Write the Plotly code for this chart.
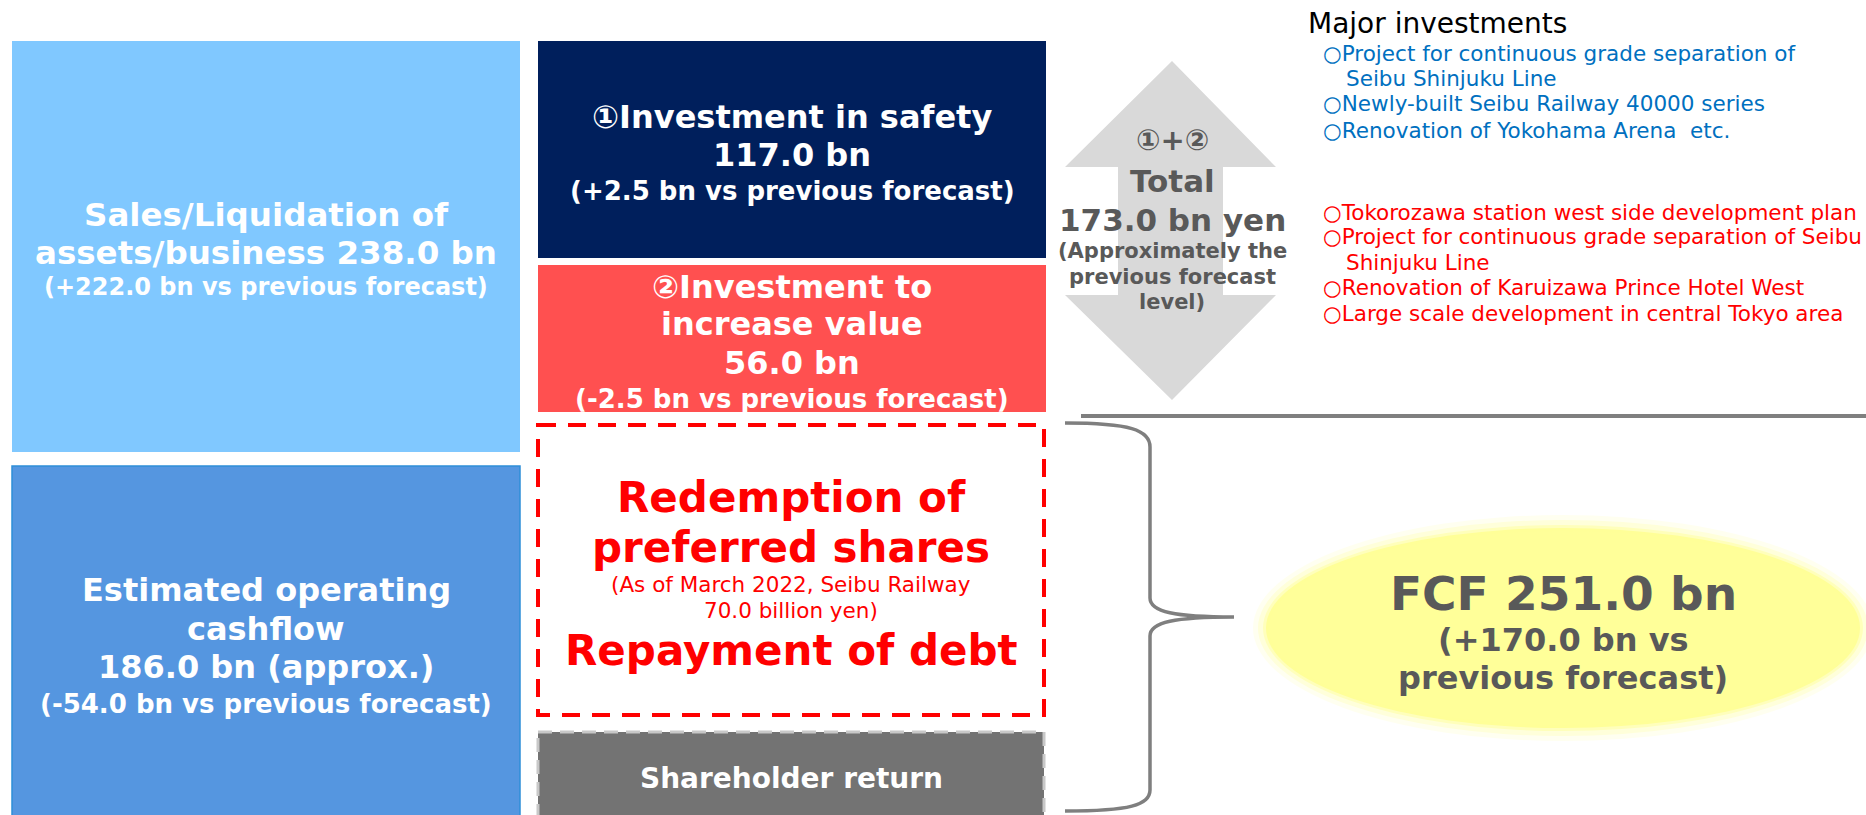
import plotly.graph_objects as go

# ---------------- data ----------------
categories = ["Sales/Liquidation of assets/business", "Investment in safety",
              "Investment to increase value", "Estimated operating cashflow", "FCF"]
amounts_bn = [238.0, 117.0, 56.0, 186.0, 251.0]
vs_previous_bn = [222.0, 2.5, -2.5, -54.0, 170.0]
total_investment_bn = 173.0
preferred_shares_bn = 70.0
blue_investments = ["○Project for continuous grade separation of", "Seibu Shinjuku Line",
                    "○Newly-built Seibu Railway 40000 series", "○Renovation of Yokohama Arena  etc."]
red_investments = ["○Tokorozawa station west side development plan",
                   "○Project for continuous grade separation of Seibu", "Shinjuku Line",
                   "○Renovation of Karuizawa Prince Hotel West",
                   "○Large scale development in central Tokyo area"]


def vs(v):
    return f"({v:+.1f} bn vs previous forecast)"


FONT = "Verdana, DejaVu Sans, sans-serif"
W, H = 1866, 815

fig = go.Figure()
fig.add_trace(go.Scatter(x=[0, W], y=[0, H], mode="markers", marker=dict(opacity=0),
                         hoverinfo="skip", showlegend=False))

shapes = []
annotations = []


def rect(x0, y0, x1, y1, fill, line=None):
    shapes.append(dict(type="rect", xref="x", yref="y", x0=x0, y0=y0, x1=x1, y1=y1,
                       fillcolor=fill, line=line or dict(width=0), layer="below"))


def txt(x, y, s, size, color, bold=True, anchor="center"):
    annotations.append(dict(x=x, y=y, xref="x", yref="y", text=(f"<b>{s}</b>" if bold else s),
                            showarrow=False, xanchor=anchor, yanchor="middle",
                            font=dict(family=FONT, size=size, color=color)))


# boxes
rect(12, 41, 520, 452, "#80C8FF")
rect(538, 41, 1046, 258, "#001F5C")
rect(538, 265, 1046, 412, "#FF5050")
rect(12, 466, 520, 830, "#5596E0", dict(color="#2E8FD8", width=1.5))
rect(538, 732, 1044, 830, "#737373", dict(color="#C8C8C8", width=3, dash="14px,8px"))
shapes.append(dict(type="rect", xref="x", yref="y", x0=538, y0=425, x1=1044, y1=715,
                   fillcolor="rgba(0,0,0,0)", line=dict(color="#FF0000", width=4, dash="18px,12px")))

# double arrow
shapes.append(dict(type="path", xref="x", yref="y",
                   path="M1172,61 L1276,167 L1223,167 L1223,295 L1276,295 L1172,400 "
                        "L1065,295 L1118,295 L1118,167 L1065,167 Z",
                   fillcolor="#D9D9D9", line=dict(width=0), layer="below"))

# separator line
shapes.append(dict(type="line", xref="x", yref="y", x0=1081, x1=1866, y0=416, y1=416,
                   line=dict(color="#7F7F7F", width=4)))

# brace
shapes.append(dict(type="path", xref="x", yref="y",
                   path="M1065,423 C1130,423 1150,430 1150,447 L1150,598 C1150,612 1175,617 1234,617 "
                        "M1234,617 C1175,617 1150,622 1150,636 L1150,790 C1150,805 1130,811 1065,811",
                   line=dict(color="#7F7F7F", width=3.5)))

# glowing ellipse
cx, cy, rx, ry = 1563, 628, 294, 97
for g, op in [(16, 0.12), (11, 0.2), (6, 0.35), (3, 0.6)]:
    shapes.append(dict(type="circle", xref="x", yref="y", x0=cx - rx - g, x1=cx + rx + g,
                       y0=cy - ry - g, y1=cy + ry + g, fillcolor="#FFFF80",
                       opacity=op, line=dict(width=0), layer="below"))
shapes.append(dict(type="circle", xref="x", yref="y", x0=cx - rx, x1=cx + rx, y0=cy - ry, y1=cy + ry,
                   fillcolor="#FFFF99", line=dict(width=0), layer="below"))

# texts: left column
txt(266, 215, "Sales/Liquidation of", 32.5, "white")
txt(266, 253, f"assets/business {amounts_bn[0]:.1f} bn", 32.5, "white")
txt(266, 287, vs(vs_previous_bn[0]), 24, "white")

txt(792, 117, "①Investment in safety", 32, "white")
txt(792, 155, f"{amounts_bn[1]:.1f} bn", 32, "white")
txt(792, 191, vs(vs_previous_bn[1]), 26, "white")

txt(792, 287, "②Investment to", 32, "white")
txt(792, 324, "increase value", 32, "white")
txt(792, 363, f"{amounts_bn[2]:.1f} bn", 32, "white")
txt(792, 399, vs(vs_previous_bn[2]), 26, "white")

txt(266, 590, "Estimated operating", 32, "white")
txt(266, 629, "cashflow", 32, "white")
txt(266, 667, f"{amounts_bn[3]:.1f} bn (approx.)", 32, "white")
txt(266, 704, vs(vs_previous_bn[3]), 26, "white")

txt(791, 497, "Redemption of", 42, "#FF0000")
txt(791, 547, "preferred shares", 42, "#FF0000")
txt(791, 584, "(As of March 2022, Seibu Railway", 21.5, "#FF0000", bold=False)
txt(791, 610, f"{preferred_shares_bn:.1f} billion yen)", 21.5, "#FF0000", bold=False)
txt(791, 650, "Repayment of debt", 42, "#FF0000")

txt(791, 778, "Shareholder return", 28, "white")

# arrow texts
GR = "#595959"
txt(1172, 140, "①+②", 29, GR)
txt(1172, 181, "Total", 31, GR)
txt(1172, 220, f"{total_investment_bn:.1f} bn yen", 31, GR)
txt(1172, 251, "(Approximately the", 21, GR)
txt(1172, 277, "previous forecast", 21, GR)
txt(1172, 302, "level)", 21, GR)

# right lists
txt(1306, 23, "Major investments", 28, "black", bold=False, anchor="left")
for s, y in zip(blue_investments, [53, 78, 103, 130]):
    txt(1321 if s.startswith("○") else 1344, y, s, 21.5, "#0070C0", bold=False, anchor="left")
for s, y in zip(red_investments, [212, 236, 262, 287, 313]):
    txt(1321 if s.startswith("○") else 1344, y, s, 21.5, "#FF0000", bold=False, anchor="left")

# FCF
txt(cx, 593, f"FCF {amounts_bn[4]:.1f} bn", 47, GR)
txt(cx, 640, f"({vs_previous_bn[4]:+.1f} bn vs", 32, GR)
txt(cx, 678, "previous forecast)", 32, GR)

fig.update_layout(width=W, height=H, margin=dict(l=0, r=0, t=0, b=0),
                  paper_bgcolor="white", plot_bgcolor="white",
                  xaxis=dict(range=[0, W], visible=False, fixedrange=True),
                  yaxis=dict(range=[H, 0], visible=False, fixedrange=True),
                  shapes=shapes, annotations=annotations, showlegend=False)

fig.write_html("out.html", post_script="document.body.style.margin='0';document.body.style.overflow='hidden';",
               config={"displayModeBar": False})
